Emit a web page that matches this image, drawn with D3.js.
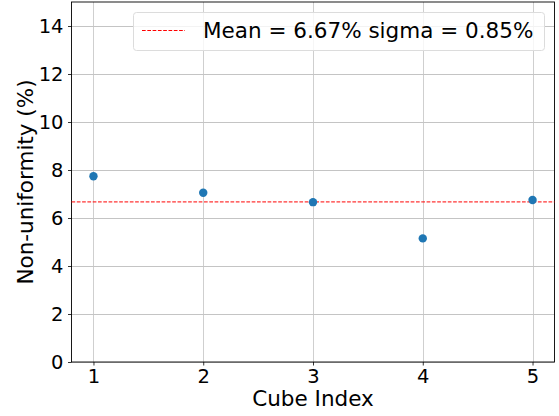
<!DOCTYPE html>
<html><head><meta charset="utf-8">
<script src="https://cdn.jsdelivr.net/npm/d3@7"></script>
<style>body{margin:0;background:#fff}svg{display:block}text{font-family:"DejaVu Sans",sans-serif;fill:#000}</style>
</head><body>
<script>
const cubeIndex = [1, 2, 3, 4, 5];
const nonUniformity = [7.74, 7.05, 6.66, 5.15, 6.75];
const meanValue = 6.67;
const legendLabel = "Mean = 6.67% sigma = 0.85%";
const xTicks = [1, 2, 3, 4, 5];
const yTicks = [0, 2, 4, 6, 8, 10, 12, 14];

const W = 559, H = 416;
const m = {l: 71.5, r: 554.5, t: 2, b: 362};
const svg = d3.select("body").append("svg").attr("width", W).attr("height", H);
const x = d3.scaleLinear().domain([0.8, 5.2]).range([m.l, m.r]);
const y = d3.scaleLinear().domain([0, 15]).range([m.b, m.t]);

// grid
const g = svg.append("g");
g.selectAll(".gx").data(xTicks).join("line")
  .attr("x1", d => Math.round(x(d)) + 0.5).attr("x2", d => Math.round(x(d)) + 0.5)
  .attr("y1", m.t).attr("y2", m.b).attr("stroke", "#cfcfcf").attr("stroke-width", 1);
g.selectAll(".gy").data(yTicks).join("line")
  .attr("y1", d => Math.round(y(d)) + 0.5).attr("y2", d => Math.round(y(d)) + 0.5)
  .attr("x1", m.l).attr("x2", m.r).attr("stroke", "#c4c4c4").attr("stroke-width", 1);

// axes
const xAxis = svg.append("g").attr("transform", `translate(0,${m.b})`)
  .call(d3.axisBottom(x).tickValues(xTicks).tickSize(3.5).tickPadding(3.5).tickFormat(d3.format("d")));
const yAxis = svg.append("g").attr("transform", `translate(${m.l},0)`)
  .call(d3.axisLeft(y).tickValues(yTicks).tickSize(3.5).tickPadding(4.5).tickFormat(d3.format("d")));
[xAxis, yAxis].forEach(a => {
  a.select(".domain").remove();
  a.selectAll("text").style("font-family", '"DejaVu Sans",sans-serif').style("font-size", "19.5px").attr("fill", "#000");
  a.selectAll("line").attr("stroke", "#000").attr("stroke-width", 0.8);
});

// spines
svg.append("rect").attr("x", m.l).attr("y", m.t).attr("width", m.r - m.l).attr("height", m.b - m.t)
  .attr("fill", "none").attr("stroke", "#000").attr("stroke-width", 0.9);

// mean line
svg.append("line").attr("x1", m.l).attr("x2", m.r).attr("y1", y(meanValue)).attr("y2", y(meanValue))
  .attr("stroke", "red").attr("stroke-width", 1).attr("stroke-dasharray", "3.7,1.6");

// points
svg.selectAll(".pt").data(cubeIndex).join("circle")
  .attr("cx", d => x(d)).attr("cy", (d, i) => y(nonUniformity[i])).attr("r", 4.2).attr("fill", "#1f77b4");

// labels
svg.append("text").attr("x", (m.l + m.r) / 2).attr("y", 406).attr("text-anchor", "middle")
  .style("font-size", "21.5px").text("Cube Index");
svg.append("text").attr("transform", `translate(33,${(m.t + m.b) / 2}) rotate(-90)`).attr("text-anchor", "middle")
  .style("font-size", "21.5px").text("Non-uniformity (%)");

// legend
const lg = svg.append("g");
lg.append("rect").attr("x", 133.5).attr("y", 12.5).attr("width", 411).attr("height", 38).attr("rx", 3)
  .attr("fill", "#fff").attr("fill-opacity", 0.8).attr("stroke", "#dcdcdc").attr("stroke-width", 1);
lg.append("line").attr("x1", 142).attr("x2", 185).attr("y1", 30.5).attr("y2", 30.5)
  .attr("stroke", "red").attr("stroke-width", 1).attr("stroke-dasharray", "3.7,1.6");
lg.append("text").attr("x", 203).attr("y", 38).style("font-size", "21.5px").text(legendLabel);
</script>
</body></html>
